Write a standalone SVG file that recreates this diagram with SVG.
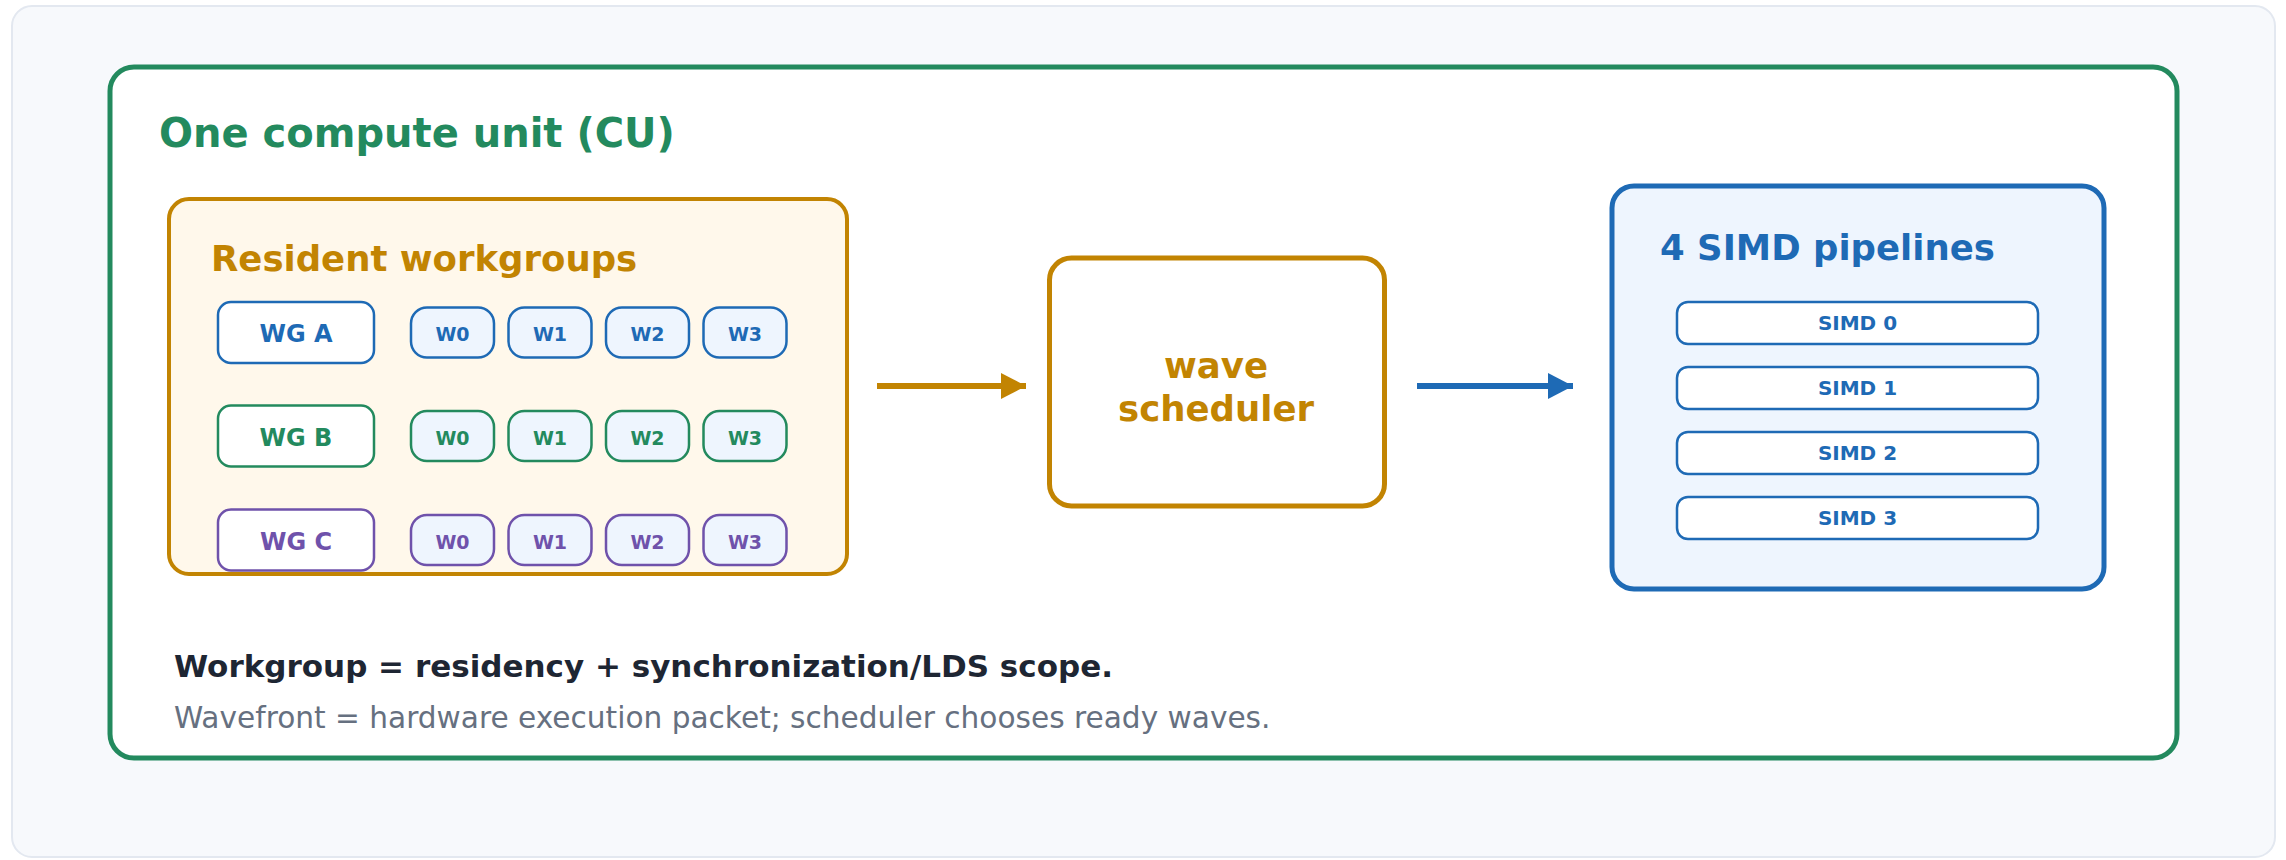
<svg xmlns="http://www.w3.org/2000/svg" width="2286" height="860" viewBox="0 0 2286 860">
  <style>
    text { font-family: "DejaVu Sans", "Liberation Sans", sans-serif; font-weight: bold; }
    .panel { fill: #f7f9fc; stroke: #e3e8f0; stroke-width: 2; }
    .cu { fill: #ffffff; stroke: #238a5e; stroke-width: 5; }
    .resident { fill: #fff8eb; stroke: #c28402; stroke-width: 4; }
    .sched { fill: #ffffff; stroke: #c28402; stroke-width: 5; }
    .simdbox { fill: #eef5fe; stroke: #1e6ab5; stroke-width: 5; }
    .bar { fill: #ffffff; stroke: #1e6ab5; stroke-width: 2.5; }
    .wg { fill: #ffffff; stroke-width: 2.5; }
    .wave { fill: #eef5fe; stroke-width: 2.5; }
    .blue { stroke: #1e6ab5; }
    .green { stroke: #238a5e; }
    .purple { stroke: #6f52ab; }
    .tblue { fill: #1e6ab5; }
    .tgreen { fill: #238a5e; }
    .tpurple { fill: #6f52ab; }
    .tgold { fill: #c28402; }
    .wgl { font-size: 24px; text-anchor: middle; }
    .wl { font-size: 19px; text-anchor: middle; }
    .head { font-size: 35.5px; }
    .simdl { font-size: 20px; text-anchor: middle; fill: #1e6ab5; }
    .note { font-size: 31px; fill: #1e2633; }
    .sub { font-size: 29.6px; fill: #667080; font-weight: normal; }
    .link { fill: none; stroke-width: 6; }
  </style>
  <defs>
    <marker id="head-gold" markerUnits="userSpaceOnUse" markerWidth="26" markerHeight="26" refX="25" refY="13" orient="auto">
      <path d="M0,0 L25,13 L0,26 z" fill="#c28402"/>
    </marker>
    <marker id="head-blue" markerUnits="userSpaceOnUse" markerWidth="26" markerHeight="26" refX="25" refY="13" orient="auto">
      <path d="M0,0 L25,13 L0,26 z" fill="#1e6ab5"/>
    </marker>
  </defs>

  <!-- page background -->
  <rect class="panel" x="12" y="6" width="2263" height="851" rx="20"/>

  <!-- compute unit frame -->
  <g id="cu">
    <rect class="cu" x="110" y="67" width="2067" height="691" rx="24"/>
    <text class="tgreen" x="159" y="147" font-size="40">One compute unit (CU)</text>
  </g>

  <!-- resident workgroups -->
  <g id="resident">
    <rect class="resident" x="169" y="199" width="678" height="375" rx="20"/>
    <text class="head tgold" x="211" y="271">Resident workgroups</text>
  </g>

  <g id="wg-a">
    <rect class="wg blue" x="218" y="302" width="156" height="61" rx="13"/>
    <text class="wgl tblue" x="296" y="342">WG A</text>
    <rect class="wave blue" x="411" y="307.5" width="83" height="50" rx="16"/>
    <text class="wl tblue" x="452.5" y="341">W0</text>
    <rect class="wave blue" x="508.5" y="307.5" width="83" height="50" rx="16"/>
    <text class="wl tblue" x="550" y="341">W1</text>
    <rect class="wave blue" x="606" y="307.5" width="83" height="50" rx="16"/>
    <text class="wl tblue" x="647.5" y="341">W2</text>
    <rect class="wave blue" x="703.5" y="307.5" width="83" height="50" rx="16"/>
    <text class="wl tblue" x="745" y="341">W3</text>
  </g>

  <g id="wg-b">
    <rect class="wg green" x="218" y="405.5" width="156" height="61" rx="13"/>
    <text class="wgl tgreen" x="296" y="445.5">WG B</text>
    <rect class="wave green" x="411" y="411" width="83" height="50" rx="16"/>
    <text class="wl tgreen" x="452.5" y="444.5">W0</text>
    <rect class="wave green" x="508.5" y="411" width="83" height="50" rx="16"/>
    <text class="wl tgreen" x="550" y="444.5">W1</text>
    <rect class="wave green" x="606" y="411" width="83" height="50" rx="16"/>
    <text class="wl tgreen" x="647.5" y="444.5">W2</text>
    <rect class="wave green" x="703.5" y="411" width="83" height="50" rx="16"/>
    <text class="wl tgreen" x="745" y="444.5">W3</text>
  </g>

  <g id="wg-c">
    <rect class="wg purple" x="218" y="509.5" width="156" height="61" rx="13"/>
    <text class="wgl tpurple" x="296" y="549.5">WG C</text>
    <rect class="wave purple" x="411" y="515" width="83" height="50" rx="16"/>
    <text class="wl tpurple" x="452.5" y="548.5">W0</text>
    <rect class="wave purple" x="508.5" y="515" width="83" height="50" rx="16"/>
    <text class="wl tpurple" x="550" y="548.5">W1</text>
    <rect class="wave purple" x="606" y="515" width="83" height="50" rx="16"/>
    <text class="wl tpurple" x="647.5" y="548.5">W2</text>
    <rect class="wave purple" x="703.5" y="515" width="83" height="50" rx="16"/>
    <text class="wl tpurple" x="745" y="548.5">W3</text>
  </g>

  <!-- scheduler -->
  <g id="scheduler">
    <rect class="sched" x="1049.5" y="258" width="335" height="248" rx="22"/>
    <text class="head tgold" x="1216" y="378" text-anchor="middle" font-size="36">wave</text>
    <text class="head tgold" x="1216" y="421" text-anchor="middle" font-size="36">scheduler</text>
  </g>

  <!-- SIMD pipelines -->
  <g id="simd">
    <rect class="simdbox" x="1612" y="186" width="492" height="403" rx="22"/>
    <text class="head tblue" x="1660" y="260">4 SIMD pipelines</text>
    <rect class="bar" x="1677" y="302" width="361" height="42" rx="11"/>
    <text class="simdl" x="1857.5" y="330">SIMD 0</text>
    <rect class="bar" x="1677" y="367" width="361" height="42" rx="11"/>
    <text class="simdl" x="1857.5" y="395">SIMD 1</text>
    <rect class="bar" x="1677" y="432" width="361" height="42" rx="11"/>
    <text class="simdl" x="1857.5" y="460">SIMD 2</text>
    <rect class="bar" x="1677" y="497" width="361" height="42" rx="11"/>
    <text class="simdl" x="1857.5" y="525">SIMD 3</text>
  </g>

  <!-- connectors -->
  <g id="connectors">
    <line class="link" x1="877" y1="386" x2="1026" y2="386" stroke="#c28402" marker-end="url(#head-gold)"/>
    <line class="link" x1="1417" y1="386" x2="1573" y2="386" stroke="#1e6ab5" marker-end="url(#head-blue)"/>
  </g>

  <!-- footnotes -->
  <g id="notes">
    <text class="note" x="174" y="677">Workgroup = residency + synchronization/LDS scope.</text>
    <text class="sub" x="174" y="728">Wavefront = hardware execution packet; scheduler chooses ready waves.</text>
  </g>
</svg>
